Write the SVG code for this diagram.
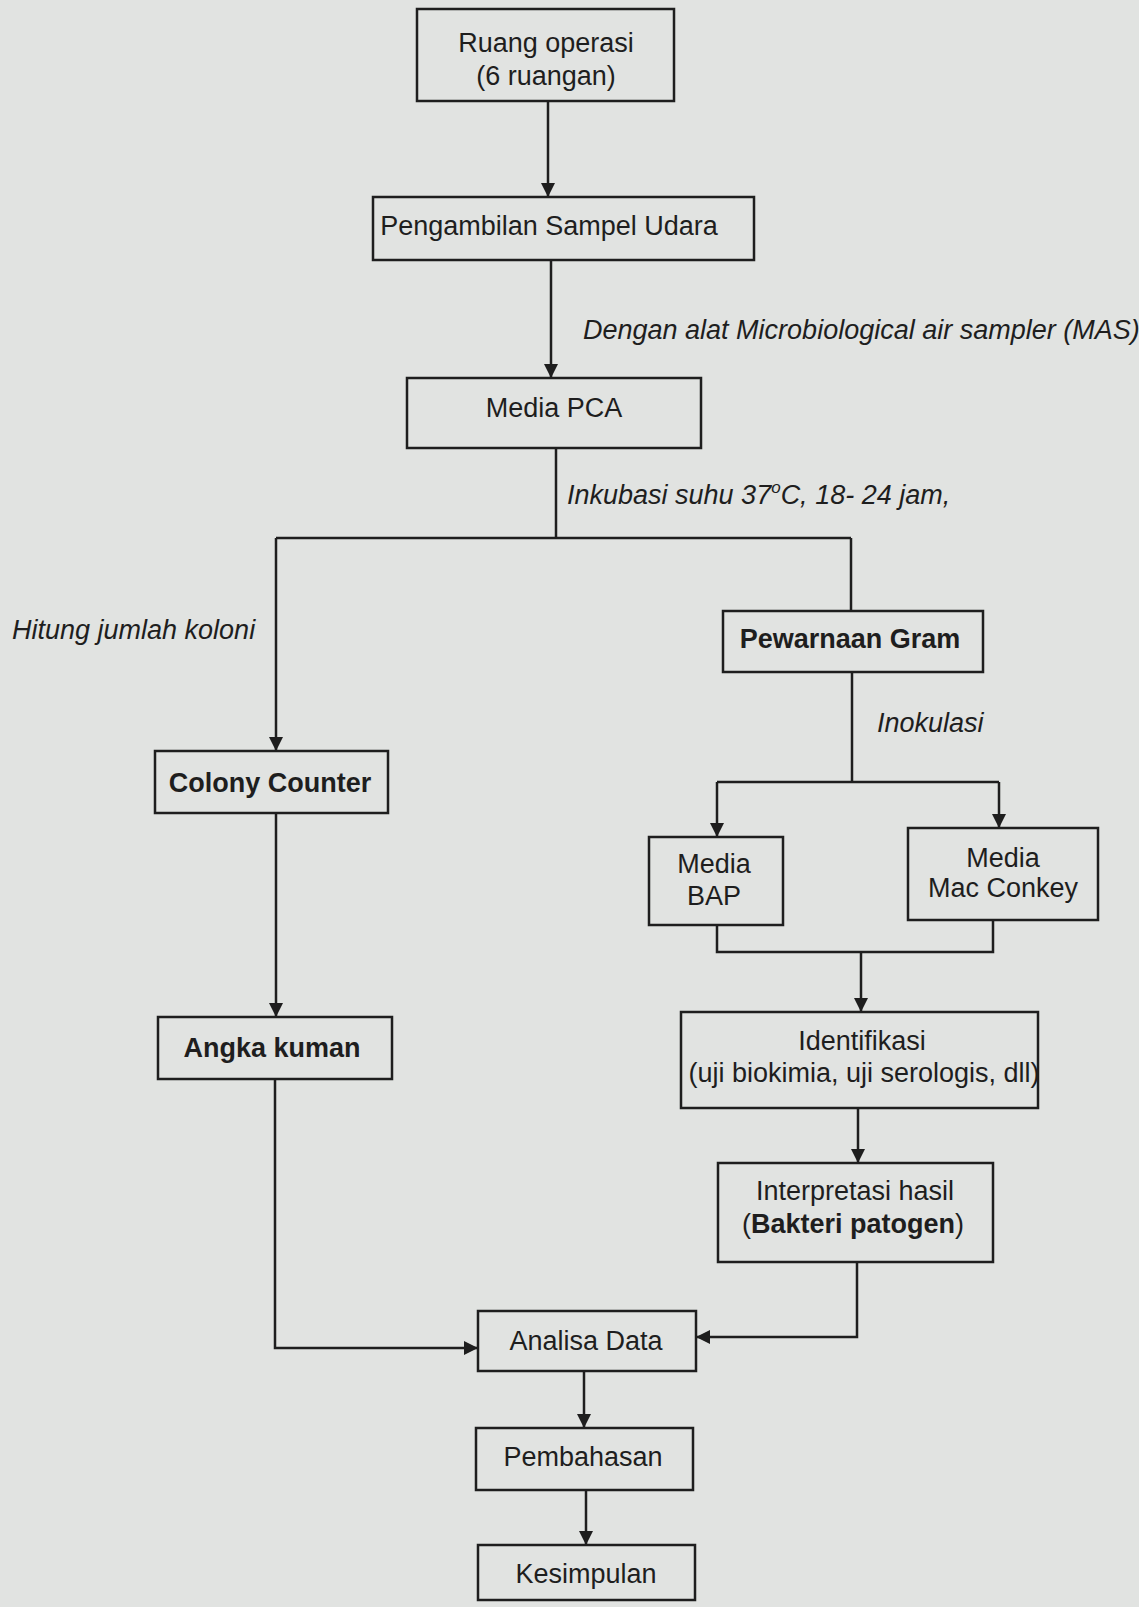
<svg xmlns="http://www.w3.org/2000/svg" width="1139" height="1607" viewBox="0 0 1139 1607">
<style>
.box{fill:none;stroke:#1e1e1e;stroke-width:2.5}
.t{font-family:"Liberation Sans",Arial,sans-serif;font-size:27px;fill:#1e1e1e;text-anchor:middle}
.b{font-weight:bold}
.lbl{font-family:"Liberation Sans",Arial,sans-serif;font-size:27px;font-style:italic;fill:#1e1e1e}
.c{fill:none;stroke:#1e1e1e;stroke-width:2.5}
</style>
<defs>
<marker id="ah" viewBox="0 0 10 10" refX="10" refY="5" markerWidth="5.6" markerHeight="5.6" markerUnits="strokeWidth" orient="auto">
<path d="M0,0 L10,5 L0,10 z" fill="#1e1e1e"/>
</marker>
</defs>
<rect width="1139" height="1607" fill="#e1e3e1"/>

<g id="connectors">
<path class="c" d="M548,101 V197" marker-end="url(#ah)"/>
<path class="c" d="M551,260 V378" marker-end="url(#ah)"/>
<path class="c" d="M556,448 V538"/>
<path class="c" d="M276,538 H851"/>
<path class="c" d="M276,538 V751" marker-end="url(#ah)"/>
<path class="c" d="M851,538 V611"/>
<path class="c" d="M276,813 V1017" marker-end="url(#ah)"/>
<path class="c" d="M275,1079 V1348 H478" marker-end="url(#ah)"/>
<path class="c" d="M852,672 V782"/>
<path class="c" d="M717,782 H999"/>
<path class="c" d="M717,782 V837" marker-end="url(#ah)"/>
<path class="c" d="M999,782 V828" marker-end="url(#ah)"/>
<path class="c" d="M717,925 V952 H993 V920"/>
<path class="c" d="M861,952 V1012" marker-end="url(#ah)"/>
<path class="c" d="M858,1108 V1163" marker-end="url(#ah)"/>
<path class="c" d="M857,1262 V1337 H696" marker-end="url(#ah)"/>
<path class="c" d="M584,1371 V1428" marker-end="url(#ah)"/>
<path class="c" d="M586,1490 V1545" marker-end="url(#ah)"/>
<text class="lbl" x="583" y="339">Dengan alat Microbiological air sampler (MAS)</text>
<text class="lbl" x="567" y="504">Inkubasi suhu 37<tspan font-size="17" dy="-11">o</tspan><tspan dy="11">C, 18- 24 jam,</tspan></text>
<text class="lbl" x="12" y="639">Hitung jumlah koloni</text>
<text class="lbl" x="877" y="732">Inokulasi</text>
</g>

<g id="n-ruang">
<rect class="box" x="417" y="9" width="257" height="92"/>
<text class="t" x="546" y="52">Ruang operasi</text>
<text class="t" x="546" y="85">(6 ruangan)</text>
</g>
<g id="n-pengambilan">
<rect class="box" x="373" y="197" width="381" height="63"/>
<text class="t" x="549" y="235">Pengambilan Sampel Udara</text>
</g>
<g id="n-pca">
<rect class="box" x="407" y="378" width="294" height="70"/>
<text class="t" x="554" y="417">Media PCA</text>
</g>
<g id="n-colony">
<rect class="box" x="155" y="751" width="233" height="62"/>
<text class="t b" x="270" y="792">Colony Counter</text>
</g>
<g id="n-angka">
<rect class="box" x="158" y="1017" width="234" height="62"/>
<text class="t b" x="272" y="1057">Angka kuman</text>
</g>
<g id="n-gram">
<rect class="box" x="723" y="611" width="260" height="61"/>
<text class="t b" x="850" y="648">Pewarnaan Gram</text>
</g>
<g id="n-bap">
<rect class="box" x="649" y="837" width="134" height="88"/>
<text class="t" x="714" y="873">Media</text>
<text class="t" x="714" y="905">BAP</text>
</g>
<g id="n-macconkey">
<rect class="box" x="908" y="828" width="190" height="92"/>
<text class="t" x="1003" y="867">Media</text>
<text class="t" x="1003" y="897">Mac Conkey</text>
</g>
<g id="n-identifikasi">
<rect class="box" x="681" y="1012" width="357" height="96"/>
<text class="t" x="862" y="1050">Identifikasi</text>
<text class="t" x="864" y="1082">(uji biokimia, uji serologis, dll)</text>
</g>
<g id="n-interpretasi">
<rect class="box" x="718" y="1163" width="275" height="99"/>
<text class="t" x="855" y="1200">Interpretasi hasil</text>
<text class="t" x="853" y="1233">(<tspan class="b">Bakteri patogen</tspan>)</text>
</g>
<g id="n-analisa">
<rect class="box" x="478" y="1311" width="218" height="60"/>
<text class="t" x="586" y="1350">Analisa Data</text>
</g>
<g id="n-pembahasan">
<rect class="box" x="476" y="1428" width="217" height="62"/>
<text class="t" x="583" y="1466">Pembahasan</text>
</g>
<g id="n-kesimpulan">
<rect class="box" x="478" y="1545" width="217" height="55"/>
<text class="t" x="586" y="1583">Kesimpulan</text>
</g>
</svg>
